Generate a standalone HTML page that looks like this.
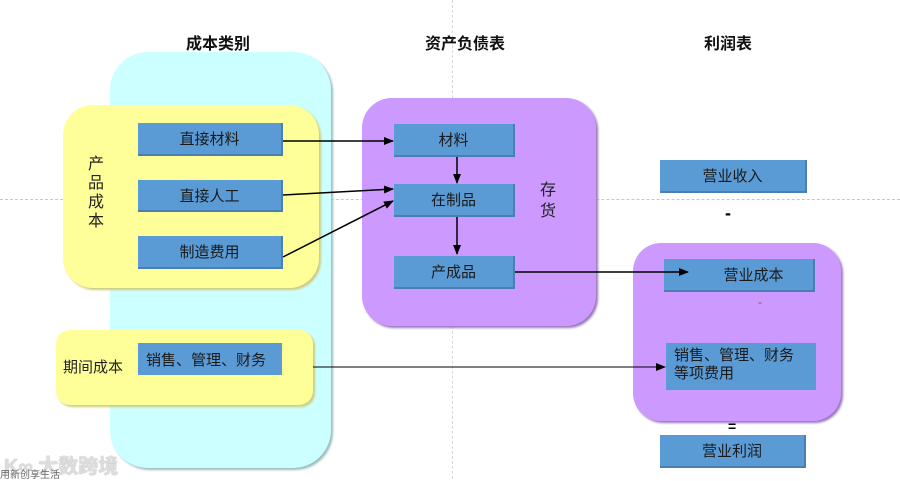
<!DOCTYPE html>
<html><head><meta charset="utf-8"><style>
body{margin:0;width:900px;height:479px;background:#fff;overflow:hidden;position:relative;font-family:"Liberation Sans","Noto Sans CJK SC",sans-serif;}
.a{position:absolute;box-sizing:border-box;}
.b{position:absolute;box-sizing:border-box;background:#5b9bd5;border-right:2px solid #4a7fb0;border-bottom:2px solid #4a7fb0;color:#1a1a1a;font-size:15px;display:flex;align-items:center;justify-content:center;}
.t{position:absolute;font-weight:bold;font-size:16px;color:#111;}
</style></head><body>
<div class="a" style="left:0;top:199px;width:900px;border-top:1px dashed #c8c8c8"></div>
<div class="a" style="left:452px;top:0;height:479px;border-left:1px dashed #d8d8d8"></div>
<div class="t" style="left:186px;top:30px">成本类别</div>
<div class="t" style="left:425px;top:30px">资产负债表</div>
<div class="t" style="left:704px;top:30px">利润表</div>
<div class="a" style="left:110px;top:52px;width:221px;height:416px;background:#ccffff;border-radius:38px;box-shadow:2px 2px 2px #9bbcbc"></div>
<div class="a" style="left:63px;top:105px;width:256px;height:183px;background:#ffff99;border-radius:30px;box-shadow:2px 2px 2px #cccc80"></div>
<div class="a" style="left:88px;top:155px;width:18px;font-size:16px;line-height:19px;color:#222">产品成本</div>
<div class="b" style="left:138px;top:123px;width:145px;height:33px">直接材料</div>
<div class="b" style="left:138px;top:180px;width:145px;height:32px">直接人工</div>
<div class="b" style="left:138px;top:236px;width:145px;height:33px">制造费用</div>
<div class="a" style="left:56px;top:330px;width:257px;height:75px;background:#ffff99;border-radius:14px;box-shadow:2px 2px 2px #cccc80"></div>
<div class="a" style="left:63px;top:356px;font-size:15px;color:#222">期间成本</div>
<div class="b" style="left:138px;top:343px;width:144px;height:32px;justify-content:flex-start;padding-left:8px;border:none">销售、管理、财务</div>
<div class="a" style="left:362px;top:98px;width:234px;height:228px;background:#cc99ff;border-radius:30px;box-shadow:2px 2px 2px #9a78c0"></div>
<div class="b" style="left:394px;top:124px;width:121px;height:33px">材料</div>
<div class="b" style="left:394px;top:184px;width:121px;height:33px">在制品</div>
<div class="b" style="left:394px;top:256px;width:121px;height:33px">产成品</div>
<div class="a" style="left:540px;top:180px;width:18px;font-size:16px;line-height:21px;color:#222">存货</div>
<div class="b" style="left:660px;top:160px;width:147px;height:33px">营业收入</div>
<div class="a" style="left:725px;top:203px;font-size:18px;font-weight:bold">-</div>
<div class="a" style="left:633px;top:243px;width:208px;height:178px;background:#cc99ff;border-radius:28px;box-shadow:2px 2px 2px #9a78c0"></div>
<div class="b" style="left:664px;top:259px;width:151px;height:33px;padding-left:30px">营业成本</div>
<div class="a" style="left:758px;top:295px;font-size:12px;color:#a05030">-</div>
<div class="b" style="left:666px;top:343px;width:150px;height:47px;border:none;justify-content:flex-start;align-items:flex-start;padding:4px 0 0 8px;line-height:18px">销售、管理、财务<br>等项费用</div>
<div class="a" style="left:728px;top:418px;font-size:14px;font-weight:bold">=</div>
<div class="b" style="left:660px;top:435px;width:146px;height:33px">营业利润</div>
<div class="a" style="left:4px;top:450px;font-size:20px;color:#ddd;font-weight:bold;text-shadow:0 0 1px #999">K∞ 大数跨境</div>
<div class="a" style="left:0;top:466px;font-size:10px;color:#666">用新创享生活</div>
<svg class="a" style="left:0;top:0" width="900" height="479">
<defs><marker id="m" markerWidth="10" markerHeight="8" refX="9" refY="4" orient="auto" markerUnits="userSpaceOnUse"><path d="M0,0L10,4L0,8z" fill="#000"/></marker></defs>
<g stroke="#000" stroke-width="1.5" fill="none" marker-end="url(#m)">
<line x1="283" y1="141" x2="393" y2="141"/>
<line x1="283" y1="195" x2="393" y2="189"/>
<line x1="283" y1="257" x2="393" y2="201"/>
<line x1="457" y1="157" x2="457" y2="183"/>
<line x1="457" y1="217" x2="457" y2="254"/>
<line x1="515" y1="272" x2="688" y2="272"/>
<line x1="313" y1="367" x2="665" y2="367" stroke-width="1"/>
</g></svg>
</body></html>
